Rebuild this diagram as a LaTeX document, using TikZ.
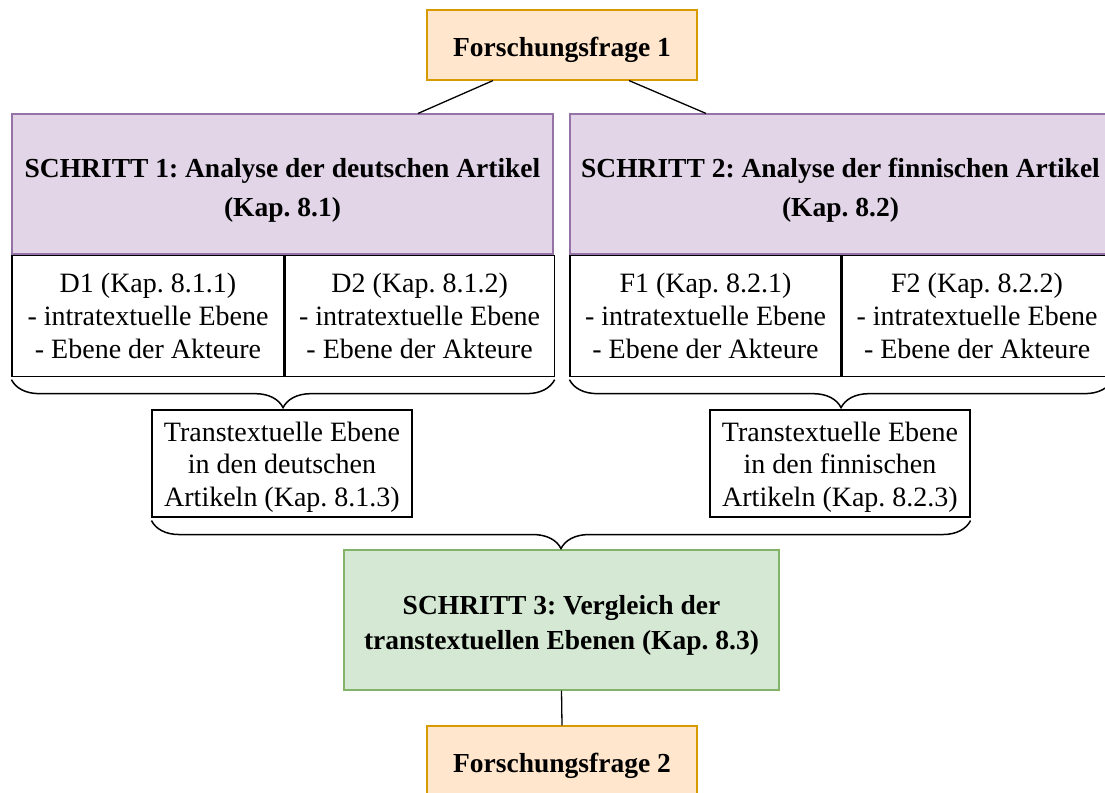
\documentclass[tikz,border=0pt]{standalone}
\usepackage{fontspec}
\setmainfont{Liberation Serif}
\frenchspacing
\usetikzlibrary{positioning,calc,decorations.pathreplacing}

\definecolor{frageFill}{HTML}{FFE6CC}
\definecolor{frageLine}{HTML}{D79B00}
\definecolor{schrittFill}{HTML}{E1D5E7}
\definecolor{schrittLine}{HTML}{9673A6}
\definecolor{vergleichFill}{HTML}{D5E8D4}
\definecolor{vergleichLine}{HTML}{82B366}

\newcommand{\oben}[1]{\rule{0pt}{#1}}% hebt die erste Zeile an

\tikzset{
  box/.style={draw, line width=1.1pt, inner sep=0pt, align=center},
  fett/.style={font=\fontsize{27.5}{#1}\selectfont\bfseries},
  frage/.style={box, fill=frageFill, draw=frageLine, minimum width=270pt, minimum height=70pt, fett=31},
  schritt/.style={box, fill=schrittFill, draw=schrittLine, minimum width=541pt, minimum height=140pt, fett=39},
  zelle/.style={box, draw=black, minimum height=121pt, font=\fontsize{28}{33}\selectfont},
  ebene/.style={box, draw=black, minimum width=260pt, minimum height=107pt, font=\fontsize{28}{32.5}\selectfont},
  vergleich/.style={box, fill=vergleichFill, draw=vergleichLine, minimum width=435pt, minimum height=140pt, fett=35},
  klammer/.style={draw, line width=1.5pt, decorate, decoration={brace, mirror, amplitude=28pt}},
  verbindung/.style={draw, line width=1.3pt}
}

\begin{document}
\begin{tikzpicture}[x=1pt,y=-1pt]
    \useasboundingbox (0,0) rectangle (1105,792);
    \clip (0,0) rectangle (1105,792);
    %Forschungsfrage oben
    \node[frage] (frage1) at (562,45) {\oben{29pt}Forschungsfrage 1};
    %Schritt 1 und 2
    \node[schritt] (schritt1) at (282.5,184) {\oben{31pt}SCHRITT 1: Analyse der deutschen Artikel\\(Kap. 8.1)};
    \node[schritt] (schritt2) at (840.5,184) {\oben{31pt}SCHRITT 2: Analyse der finnischen Artikel\\(Kap. 8.2)};
    %Einzelanalysen
    \node[zelle, minimum width=272pt, anchor=north west] (d1) at (schritt1.south west) {D1 (Kap. 8.1.1)\\- intratextuelle Ebene\\- Ebene der Akteure};
    \node[zelle, minimum width=269pt, anchor=north west] (d2) at (d1.north east) {D2 (Kap. 8.1.2)\\- intratextuelle Ebene\\- Ebene der Akteure};
    \node[zelle, minimum width=271pt, anchor=north west] (f1) at (schritt2.south west) {F1 (Kap. 8.2.1)\\- intratextuelle Ebene\\- Ebene der Akteure};
    \node[zelle, minimum width=270pt, anchor=north west] (f2) at (f1.north east) {F2 (Kap. 8.2.2)\\- intratextuelle Ebene\\- Ebene der Akteure};
    %Transtextuelle Ebenen
    \node[ebene] (trans1) at (282,463.5) {\oben{26pt}Transtextuelle Ebene\\in den deutschen\\Artikeln (Kap. 8.1.3)};
    \node[ebene] (trans2) at (840,463.5) {\oben{26pt}Transtextuelle Ebene\\in den finnischen\\Artikeln (Kap. 8.2.3)};
    %Schritt 3 und Forschungsfrage 2
    \node[vergleich] (schritt3) at (561.5,620) {\oben{29pt}SCHRITT 3: Vergleich der\\transtextuellen Ebenen (Kap. 8.3)};
    \node[frage] (frage2) at (562,761) {\oben{29pt}Forschungsfrage 2};

    %Verbindungen
    \draw[verbindung] ([xshift=-69pt]frage1.south) -- ([xshift=135.5pt]schritt1.north);
    \draw[verbindung] ([xshift=67pt]frage1.south) -- ([xshift=-134.5pt]schritt2.north);
    \draw[klammer] ([yshift=-3pt]d1.south west) -- ([yshift=-3pt]d2.south east);
    \draw[klammer] ([yshift=-3pt]f1.south west) -- ([yshift=-3pt]f2.south east);
    \draw[klammer] ([yshift=-3pt]trans1.south west) -- ([yshift=-3pt]trans2.south east);
    \draw[verbindung] (schritt3.south) -- (frage2.north);
\end{tikzpicture}
\end{document}
